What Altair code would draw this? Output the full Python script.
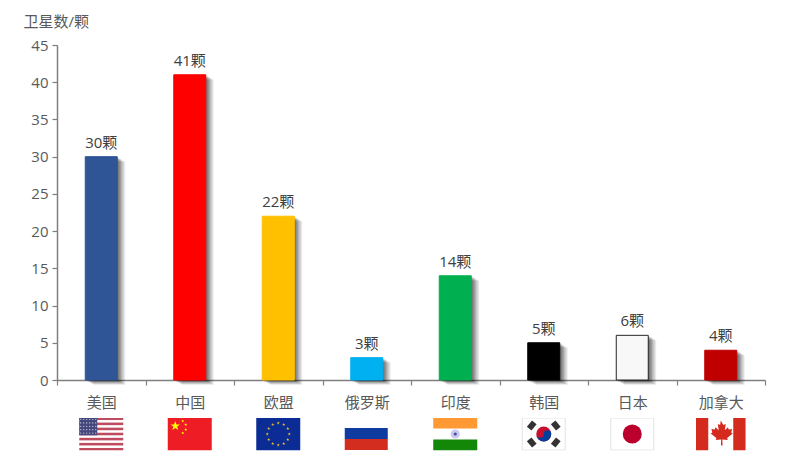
import base64
import math
import altair as alt
import pandas as pd

categories = ["美国", "中国", "欧盟", "俄罗斯", "印度", "韩国", "日本", "加拿大"]
values = [30, 41, 22, 3, 14, 5, 6, 4]
colors = ["#2F5597", "#FF0000", "#FFC000", "#00B0F0", "#00B050", "#000000", "#F8F8F8", "#C00000"]
strokes = ["#2F5597", "#FF0000", "#FFC000", "#00B0F0", "#00B050", "#000000", "#262626", "#C00000"]
y_ticks = list(range(0, 50, 5))

FONT = "Open Sans, Noto Sans CJK SC, sans-serif"


def star(cx, cy, r, fill):
    pts = []
    for i in range(10):
        rad = r if i % 2 == 0 else r * 0.4
        a = -math.pi / 2 + i * math.pi / 5
        pts.append(f"{cx + rad * math.cos(a):.2f},{cy + rad * math.sin(a):.2f}")
    return f'<polygon points="{" ".join(pts)}" fill="{fill}"/>'


def svg(body):
    s = f'<svg xmlns="http://www.w3.org/2000/svg" width="100" height="66" viewBox="0 0 50 33">{body}</svg>'
    return "data:image/svg+xml;base64," + base64.b64encode(s.encode()).decode()


us = '<rect x="3" width="44" height="33" fill="#fff"/>'
for i in range(0, 13, 2):
    us += f'<rect x="3" y="{i * 2.54:.2f}" width="44" height="2.54" fill="#BF4B5E"/>'
us += '<rect x="3" width="18" height="17.8" fill="#45477F"/>'
for r in range(5):
    for c in range(6):
        us += f'<circle cx="{4.5 + c * 3:.1f}" cy="{2 + r * 3.4:.1f}" r="0.6" fill="#ddd"/>'

cn = '<rect x="3" width="44" height="33" fill="#EE1C25"/>' + star(10.5, 8.5, 5, "#FFFF00")
for cx, cy in [(18, 3.5), (21, 7), (21, 12), (18, 15.5)]:
    cn += star(cx, cy, 1.6, "#FFFF00")

eu = '<rect x="3" width="44" height="33" fill="#0B2C94"/>'
for i in range(12):
    a = i * math.pi / 6
    eu += star(25 + 11 * math.cos(a), 16.5 + 11 * math.sin(a), 1.7, "#E5B92B")

ru = ('<rect x="4" y="0" width="42" height="0.5" fill="#ddd"/>'
      '<rect x="3" y="10.5" width="43" height="11" fill="#0F3BA0"/>'
      '<rect x="3" y="21.5" width="43" height="11" fill="#D22D1E"/>')

ind = ('<rect x="3" width="44" height="11" fill="#FF9933"/>'
       '<rect x="3" y="22" width="44" height="11" fill="#138808"/>'
       '<circle cx="25" cy="16.5" r="4.6" fill="#C9C9EE"/><circle cx="25" cy="16.5" r="1.6" fill="#4A4AA8"/>')

kr = ('<rect x="3.5" y="0.5" width="43" height="32" fill="#fff" stroke="#E3E3E3"/>'
      '<circle cx="25" cy="16.5" r="7.5" fill="#C8102E"/>'
      '<path d="M17.5 16.5a3.75 3.75 0 0 0 7.5 0a3.75 3.75 0 0 1 7.5 0a7.5 7.5 0 0 1 -15 0z" fill="#003F9E"/>'
      '<rect x="9" y="5" width="8" height="6" transform="rotate(-50 13 8)" fill="#333"/>'
      '<rect x="33" y="5" width="8" height="6" transform="rotate(50 37 8)" fill="#333"/>'
      '<rect x="9" y="22" width="8" height="6" transform="rotate(50 13 25)" fill="#333"/>'
      '<rect x="33" y="22" width="8" height="6" transform="rotate(-50 37 25)" fill="#333"/>')

jp = ('<rect x="3.5" y="0.5" width="43" height="32" fill="#fff" stroke="#E3E3E3"/>'
      '<circle cx="25" cy="16.5" r="9.5" fill="#BC002D"/>')

ca = ('<rect x="0" width="50" height="33" fill="#fff"/>'
      '<rect x="0" width="12.5" height="33" fill="#D52B1E"/>'
      '<rect x="37.5" width="12.5" height="33" fill="#D52B1E"/>'
      '<path d="M25 3l2.6 4.6 2.4-1-1 6.2 3.2-3 .8 2.2 3.4-.6-1 3.6 1.6 1-5.6 4.6.6 2-5.4-.7.2 6.1h-1.6l.2-6.1-5.4.7.6-2-5.6-4.6 1.6-1-1-3.6 3.4.6.8-2.2 3.2 3-1-6.2 2.4 1z" fill="#D52B1E"/>')

flags = [svg(b) for b in (us, cn, eu, ru, ind, kr, jp, ca)]

df = pd.DataFrame({
    "cat": categories,
    "val": values,
    "fill": colors,
    "edge": strokes,
    "label": [f"{v}颗" for v in values],
    "flag": flags,
})

W, H = 708, 335
x = alt.X(
    "cat:N",
    sort=categories,
    scale=alt.Scale(paddingInner=0, paddingOuter=0),
    axis=alt.Axis(
        title=None, labelAngle=0, tickBand="extent", tickSize=5, tickColor="#7F7F7F",
        tickWidth=1.2, domainColor="#7F7F7F", domainWidth=1.5, labelFont=FONT,
        labelFontSize=15, labelColor="#595959", labelPadding=10, grid=False,
    ),
)
y = alt.Y(
    "val:Q",
    scale=alt.Scale(domain=[0, 45], nice=False),
    axis=alt.Axis(
        values=y_ticks, title="卫星数/颗", titleAngle=0, titleAlign="left", titleBaseline="middle",
        titleX=-34, titleY=-24, titleFont=FONT, titleFontSize=15, titleFontWeight="normal",
        titleColor="#595959", tickSize=5, tickColor="#7F7F7F", tickWidth=1.2,
        domainColor="#7F7F7F", domainWidth=1.5, labelFont=FONT, labelFontSize=15,
        labelColor="#595959", labelPadding=4, grid=False,
    ),
)

base = alt.Chart(df)
shadows = [
    base.mark_bar(size=32, color="#000000", opacity=0.075, xOffset=dx, yOffset=dy).encode(x=x, y=y)
    for dx, dy in [(0, 1), (1, 1), (2, 1), (2, 2), (3, 2), (4, 2), (4, 3), (5, 3), (6, 4), (7, 4), (8, 5)]
]
bars = base.mark_bar(size=32, strokeWidth=1).encode(
    x=x,
    y=y,
    fill=alt.Fill("fill:N", scale=None),
    stroke=alt.Stroke("edge:N", scale=None),
)
text = base.mark_text(baseline="bottom", dy=-6, font=FONT, fontSize=15, color="#404040").encode(
    x=x, y=y, text="label:N"
)
images = base.mark_image(width=50, height=33, align="center", baseline="middle").encode(
    x=x, y=alt.value(H + 54), url="flag:N"
)

chart = (
    alt.layer(*shadows, bars, text, images)
    .properties(
        width=W, height=H, background="#FFFFFF",
        padding={"left": 15, "top": 6, "right": 5, "bottom": 0},
    )
    .configure_view(strokeWidth=0)
)
chart.save("out.html", embed_options={"renderer": "svg", "actions": False})
